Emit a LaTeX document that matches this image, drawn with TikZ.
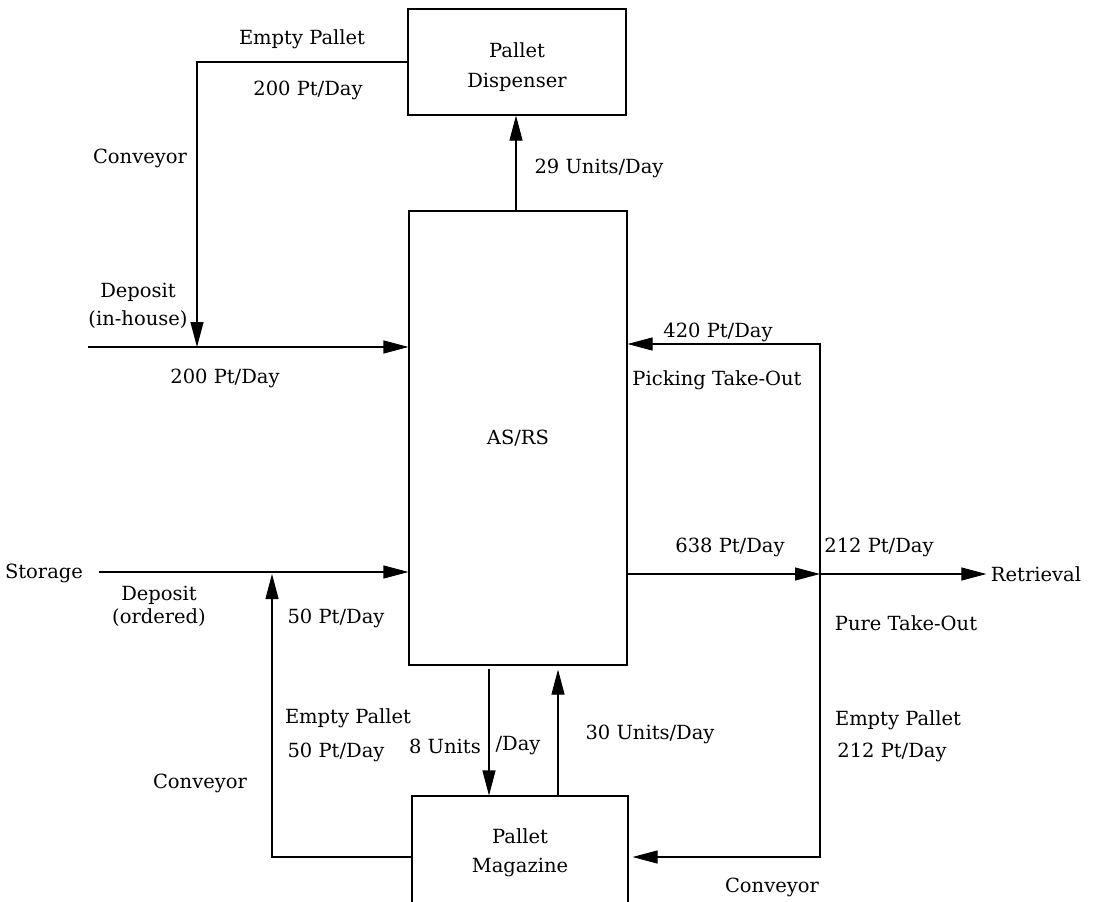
\documentclass[tikz,border=0pt]{standalone}
\usepackage{fontspec}
\setmainfont{DejaVu Serif}
\usetikzlibrary{arrows.meta}
\newcommand{\lblfont}{\fontsize{19.5}{28}\selectfont}
\begin{document}
\begin{tikzpicture}[x=1pt,y=-1pt,
  line width=1.1pt,
  box/.style={draw, rectangle, inner sep=0pt},
  lbl/.style={inner sep=0pt, font=\lblfont, align=center},
  arr/.style={-{Triangle[length=25pt,width=13pt]}}]
\useasboundingbox (0,0) rectangle (1095,902);
\fill[white] (0,0) rectangle (1095,902);

% boxes
\node[box, minimum width=218pt, minimum height=106pt] (disp) at (517,62) {};
\node[box, minimum width=218pt, minimum height=454pt] (asrs) at (518,438) {};
\node[box, minimum width=216pt, minimum height=108pt] (mag) at (520,850) {};
\node[lbl] (dispT) at ([yshift=-5pt]disp.center) {Pallet\\[2pt]Dispenser};
\node[lbl] (asrsT) at (asrs.center) {AS/RS};
\node[lbl] (magT) at ([yshift=-3pt]mag.center) {Pallet\\[1pt]Magazine};

% side nodes
\node[lbl] (storage) at (44,573) {Storage};
\node[lbl] (ret) at (1036,574) {Retrieval};

% coordinates
\coordinate (c1) at (197,347);
\coordinate (inh) at (88,347);
\coordinate (st) at (99,572);
\coordinate (c2) at (272,574);
\coordinate (mL) at (0,857);
\coordinate (d8) at (489,0);
\coordinate (u30) at (558,0);
\coordinate (u29) at (516,0);
\coordinate (J) at (820,574);
\coordinate (pk) at (820,344);

% connectors
\draw[arr] (disp.west) -| (c1);
\draw[arr] (inh) -- (inh -| asrs.west);
\draw[arr] (asrs.north -| u29) -- (disp.south -| u29);
\draw[arr] (st) -- (st -| asrs.west);
\draw[arr] (mag.west |- mL) -| (c2);
\draw[arr, shorten <=3pt] (asrs.south -| d8) -- (mag.north -| d8);
\draw[arr, shorten >=4pt] (mag.north -| u30) -- (asrs.south -| u30);
\draw[arr] (asrs.east |- J) -- (J);
\draw[arr, shorten >=4pt] (J) -- (ret.west);
\draw[arr] (J) |- (asrs.east |- pk);
\draw[arr, shorten >=4pt] (J) |- (mag.east |- mL);

% labels
\node[lbl] (l1) at (302,39) {Empty Pallet};
\node[lbl] (l2) at (308,90) {200 Pt/Day};
\node[lbl] (l3) at (140,158) {Conveyor};
\node[lbl] (l4) at (599,168) {29 Units/Day};
\node[lbl] (l5) at (138,306) {Deposit\\(in-house)};
\node[lbl] (l6) at (225,378) {200 Pt/Day};
\node[lbl] (l7) at (718,332) {420 Pt/Day};
\node[lbl] (l8) at (717,380) {Picking Take-Out};
\node[lbl] (l9) at (730,547) {638 Pt/Day};
\node[lbl] (l10) at (879,547) {212 Pt/Day};
\node[lbl] (l11) at (159,606) {Deposit\\[-5pt](ordered)};
\node[lbl] (l12) at (336,618) {50 Pt/Day};
\node[lbl] (l13) at (906,623) {Pure Take-Out};
\node[lbl] (l14) at (348,718) {Empty Pallet};
\node[lbl] (l15) at (336,752) {50 Pt/Day};
\node[lbl] (l16) at (445,746) {8 Units};
\node[lbl] (l17) at (518,746) {/Day};
\node[lbl] (l18) at (650,734) {30 Units/Day};
\node[lbl] (l19) at (200,783) {Conveyor};
\node[lbl] (l20) at (898,720) {Empty Pallet};
\node[lbl] (l21) at (892,752) {212 Pt/Day};
\node[lbl] (l22) at (772,887) {Conveyor};
\end{tikzpicture}
\end{document}
